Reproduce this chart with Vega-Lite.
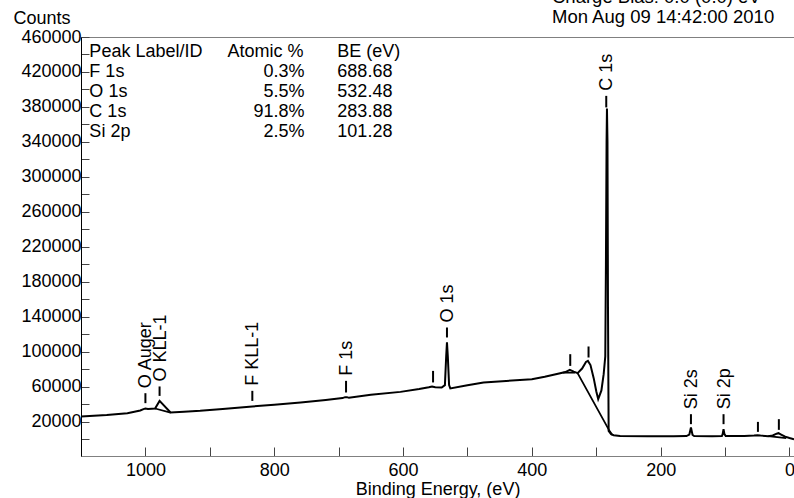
{
  "$schema": "https://vega.github.io/schema/vega-lite/v6.json",
  "width": 713,
  "height": 419,
  "autosize": {"type": "none"},
  "padding": {"left": 81, "top": 37, "right": 0, "bottom": 42},
  "background": "white",
  "config": {
    "font": "Liberation Sans",
    "view": {"stroke": "#808080", "strokeWidth": 1},
    "axis": {"grid": false, "labelColor": "black", "titleColor": "black", "labelFontSize": 18, "titleFontSize": 18, "titleFontWeight": "normal", "labelFont": "Liberation Sans", "titleFont": "Liberation Sans", "tickColor": "#444444", "tickWidth": 1, "labelOverlap": false, "labelFlush": false}
  },
  "title": {
    "text": ["Charge Bias: 0.0 (0.0) eV", "Mon Aug 09 14:42:00 2010"],
    "anchor": "start",
    "align": "left",
    "dx": 471,
    "fontSize": 18.5,
    "fontWeight": "normal",
    "font": "Liberation Sans",
    "color": "black",
    "baseline": "bottom",
    "offset": -36,
    "lineHeight": 20,
    "frame": "group"
  },
  "datasets": {
    "spectrum": [
      {"ev": 1100, "counts": 26200}, {"ev": 1060, "counts": 28000}, {"ev": 1028, "counts": 30000},
      {"ev": 1008, "counts": 33000}, {"ev": 1003, "counts": 34600}, {"ev": 1000, "counts": 35300},
      {"ev": 996, "counts": 34800}, {"ev": 990, "counts": 35100}, {"ev": 985, "counts": 35300},
      {"ev": 978, "counts": 44000}, {"ev": 961, "counts": 30700}, {"ev": 940, "counts": 31600},
      {"ev": 915, "counts": 32600}, {"ev": 880, "counts": 34800}, {"ev": 834, "counts": 37600},
      {"ev": 800, "counts": 39500}, {"ev": 759, "counts": 42200}, {"ev": 720, "counts": 45000},
      {"ev": 694, "counts": 47200}, {"ev": 690, "counts": 48300}, {"ev": 687, "counts": 48300},
      {"ev": 684, "counts": 47500}, {"ev": 650, "counts": 51000}, {"ev": 604, "counts": 54300},
      {"ev": 575, "counts": 57500}, {"ev": 560, "counts": 59500}, {"ev": 555, "counts": 60500},
      {"ev": 550, "counts": 59600}, {"ev": 540, "counts": 59200}, {"ev": 535, "counts": 62000},
      {"ev": 533, "counts": 95000}, {"ev": 531.8, "counts": 111100}, {"ev": 530.5, "counts": 95000},
      {"ev": 528.5, "counts": 62000}, {"ev": 526.6, "counts": 58200}, {"ev": 500, "counts": 61800},
      {"ev": 475, "counts": 65000}, {"ev": 440, "counts": 66800}, {"ev": 400, "counts": 68800},
      {"ev": 380, "counts": 71500}, {"ev": 356, "counts": 75700}, {"ev": 348, "counts": 77000},
      {"ev": 341, "counts": 79500}, {"ev": 335, "counts": 77500}, {"ev": 329, "counts": 75700},
      {"ev": 322, "counts": 81000}, {"ev": 316, "counts": 88500}, {"ev": 313, "counts": 89700},
      {"ev": 309, "counts": 85000}, {"ev": 304, "counts": 70000}, {"ev": 300, "counts": 55000},
      {"ev": 297, "counts": 46000}, {"ev": 292, "counts": 56000}, {"ev": 288.5, "counts": 74500},
      {"ev": 286, "counts": 95000}, {"ev": 285, "counts": 200000}, {"ev": 284, "counts": 340000},
      {"ev": 283.4, "counts": 378300}, {"ev": 282.6, "counts": 340000}, {"ev": 281.8, "counts": 150000},
      {"ev": 280.8, "counts": 9700}, {"ev": 277, "counts": 6000}, {"ev": 273, "counts": 4800},
      {"ev": 263, "counts": 4000}, {"ev": 220, "counts": 3700}, {"ev": 180, "counts": 3700},
      {"ev": 160, "counts": 3800}, {"ev": 155.5, "counts": 5500}, {"ev": 153, "counts": 13600},
      {"ev": 150.5, "counts": 5000}, {"ev": 148, "counts": 3800}, {"ev": 120, "counts": 3700},
      {"ev": 105, "counts": 3800}, {"ev": 103.8, "counts": 6000}, {"ev": 102.4, "counts": 11700},
      {"ev": 101, "counts": 6000}, {"ev": 99, "counts": 3800}, {"ev": 70, "counts": 3800},
      {"ev": 55, "counts": 4400}, {"ev": 50, "counts": 4800}, {"ev": 45, "counts": 4400},
      {"ev": 33, "counts": 3700}, {"ev": 26, "counts": 4500}, {"ev": 20, "counts": 6500},
      {"ev": 17, "counts": 7100}, {"ev": 13, "counts": 5500}, {"ev": 6.7, "counts": 3100},
      {"ev": 0, "counts": 1500}, {"ev": -7, "counts": 0}
    ],
    "background": [
      {"seg": "a", "ev": 985, "counts": 35300}, {"seg": "a", "ev": 961, "counts": 30700},
      {"seg": "b", "ev": 352, "counts": 76300}, {"seg": "b", "ev": 333, "counts": 76300},
      {"seg": "c", "ev": 329, "counts": 75700}, {"seg": "c", "ev": 279.3, "counts": 9500}, {"seg": "c", "ev": 275, "counts": 5000},
      {"seg": "d", "ev": 33, "counts": 3700}, {"seg": "d", "ev": 5, "counts": 1500}
    ],
    "peaks": [
      {"ev": 1000, "top": 52800, "bot": 41400, "label": "O Auger"},
      {"ev": 978, "top": 60500, "bot": 49700, "label": "O KLL-1"},
      {"ev": 834, "top": 55500, "bot": 44000, "label": "F KLL-1"},
      {"ev": 688.5, "top": 66900, "bot": 53600, "label": "F 1s"},
      {"ev": 531.8, "top": 127900, "bot": 116500, "label": "O 1s"},
      {"ev": 284.5, "top": 392700, "bot": 379500, "label": "C 1s"},
      {"ev": 553.4, "top": 78300, "bot": 65100, "label": ""},
      {"ev": 340.4, "top": 97400, "bot": 84000, "label": ""},
      {"ev": 312, "top": 106200, "bot": 93600, "label": ""},
      {"ev": 153, "top": 28800, "bot": 17400, "label": "Si 2s"},
      {"ev": 102.4, "top": 28800, "bot": 17400, "label": "Si 2p"},
      {"ev": 49, "top": 20000, "bot": 8600, "label": ""},
      {"ev": 16.5, "top": 23100, "bot": 10900, "label": ""}
    ],
    "table": [
      {"col": "name", "ev": 1087, "counts": 442700, "text": "Peak Label/ID"},
      {"col": "name", "ev": 1087, "counts": 419900, "text": "F 1s"},
      {"col": "name", "ev": 1087, "counts": 397000, "text": "O 1s"},
      {"col": "name", "ev": 1087, "counts": 374100, "text": "C 1s"},
      {"col": "name", "ev": 1087, "counts": 351200, "text": "Si 2p"},
      {"col": "head", "ev": 872.5, "counts": 442700, "text": "Atomic %"},
      {"col": "pct", "ev": 752.9, "counts": 419900, "text": "0.3%"},
      {"col": "pct", "ev": 752.9, "counts": 397000, "text": "5.5%"},
      {"col": "pct", "ev": 752.9, "counts": 374100, "text": "91.8%"},
      {"col": "pct", "ev": 752.9, "counts": 351200, "text": "2.5%"},
      {"col": "be", "ev": 702, "counts": 442700, "text": "BE (eV)"},
      {"col": "be", "ev": 702, "counts": 419900, "text": "688.68"},
      {"col": "be", "ev": 702, "counts": 397000, "text": "532.48"},
      {"col": "be", "ev": 702, "counts": 374100, "text": "283.88"},
      {"col": "be", "ev": 702, "counts": 351200, "text": "101.28"}
    ]
  },
  "layer": [
    {
      "data": {"name": "spectrum"},
      "mark": {"type": "line", "color": "black", "strokeWidth": 2},
      "encoding": {
        "x": {
          "field": "ev", "type": "quantitative",
          "scale": {"domain": [1100, -7], "nice": false, "zero": false},
          "axis": {
            "title": "Binding Energy, (eV)",
            "values": [1000, 900, 800, 700, 600, 500, 400, 300, 200, 100, 0],
            "tickCount": 30,
            "labelExpr": "datum.value % 200 === 0 ? datum.label : ''",
            "format": "d",
            "tickSize": -9,
            "labelPadding": 14,
            "labelOverlap": false,
            "domainColor": "#808080",
            "titleY": 38,
            "titleBaseline": "alphabetic"
          }
        },
        "y": {
          "field": "counts", "type": "quantitative",
          "scale": {"domain": [-19000, 460000], "nice": false, "zero": false},
          "axis": {
            "title": "Counts",
            "values": [0, 20000, 40000, 60000, 80000, 100000, 120000, 140000, 160000, 180000, 200000, 220000, 240000, 260000, 280000, 300000, 320000, 340000, 360000, 380000, 400000, 420000, 440000, 460000],
            "tickCount": 50,
            "labelExpr": "(datum.value + 20000) % 40000 === 0 ? datum.label : ''",
            "format": "d",
            "tickSize": -8,
            "labelPadding": 8,
            "labelOverlap": false,
            "domainColor": "black",
            "titleAngle": 0,
            "titleAlign": "left",
            "titleBaseline": "alphabetic",
            "titleX": -68,
            "titleY": -14
          }
        }
      }
    },
    {
      "data": {"name": "background"},
      "mark": {"type": "line", "color": "black", "strokeWidth": 1.8},
      "encoding": {
        "x": {"field": "ev", "type": "quantitative"},
        "y": {"field": "counts", "type": "quantitative"},
        "detail": {"field": "seg"}
      }
    },
    {
      "data": {"name": "peaks"},
      "mark": {"type": "rule", "color": "black", "strokeWidth": 2},
      "encoding": {
        "x": {"field": "ev", "type": "quantitative"},
        "y": {"field": "top", "type": "quantitative"},
        "y2": {"field": "bot"}
      }
    },
    {
      "data": {"name": "peaks"},
      "transform": [{"filter": "datum.label !== ''"}],
      "mark": {"type": "text", "angle": 270, "align": "left", "baseline": "middle", "dx": 5, "dy": 1, "fontSize": 18, "color": "black", "font": "Liberation Sans"},
      "encoding": {
        "x": {"field": "ev", "type": "quantitative"},
        "y": {"field": "top", "type": "quantitative"},
        "text": {"field": "label"}
      }
    },
    {
      "data": {"name": "table"},
      "transform": [{"filter": "datum.col !== 'pct'"}],
      "mark": {"type": "text", "align": "left", "baseline": "middle", "fontSize": 18, "color": "black", "font": "Liberation Sans"},
      "encoding": {
        "x": {"field": "ev", "type": "quantitative"},
        "y": {"field": "counts", "type": "quantitative"},
        "text": {"field": "text"}
      }
    },
    {
      "data": {"name": "table"},
      "transform": [{"filter": "datum.col === 'pct'"}],
      "mark": {"type": "text", "align": "right", "baseline": "middle", "fontSize": 18, "color": "black", "font": "Liberation Sans"},
      "encoding": {
        "x": {"field": "ev", "type": "quantitative"},
        "y": {"field": "counts", "type": "quantitative"},
        "text": {"field": "text"}
      }
    }
  ]
}
